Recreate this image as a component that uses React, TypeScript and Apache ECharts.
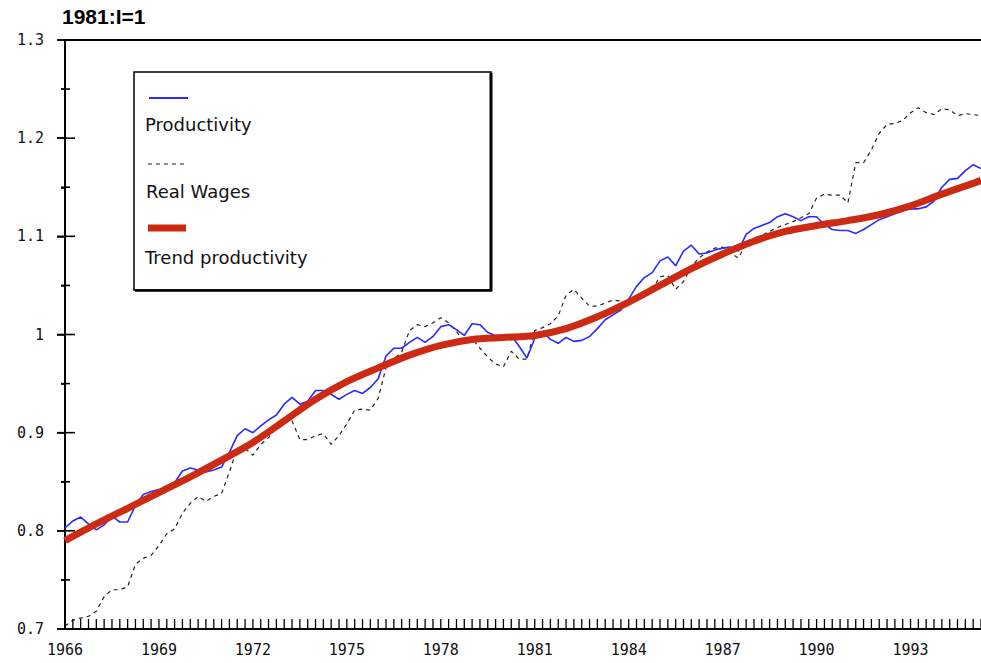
import React, { useEffect, useRef } from "react";
import * as echarts from "echarts";

// Quarterly series, 1966Q1 .. 1995Q2 (index / 4 = years since 1966)
const BASE_YEAR = 1966;
const productivity = [
  0.803, 0.81, 0.814, 0.807, 0.801, 0.806, 0.815, 0.809, 0.809, 0.826,
  0.837, 0.84, 0.842, 0.84, 0.849, 0.861, 0.864, 0.862, 0.86, 0.862,
  0.865, 0.88, 0.897, 0.904, 0.9, 0.907, 0.913, 0.918, 0.929, 0.936,
  0.929, 0.932, 0.943, 0.943, 0.939, 0.934, 0.939, 0.943, 0.94, 0.946,
  0.955, 0.978, 0.986, 0.986, 0.992, 0.997, 0.992, 0.998, 1.008, 1.01,
  1.005, 0.999, 1.011, 1.01, 1.002, 0.999, 0.999, 0.999, 0.988, 0.976,
  0.996, 1.003, 0.995, 0.991, 0.997, 0.993, 0.994, 0.998, 1.006, 1.015,
  1.02, 1.025, 1.036, 1.049, 1.058, 1.063, 1.075, 1.079, 1.07, 1.085,
  1.091, 1.082, 1.083, 1.086, 1.088, 1.089, 1.085, 1.102, 1.108, 1.111,
  1.114, 1.12, 1.123, 1.12, 1.116, 1.12, 1.12, 1.112, 1.107, 1.106,
  1.106, 1.103, 1.107, 1.112, 1.117, 1.12, 1.123, 1.126, 1.128, 1.128,
  1.13, 1.136, 1.15, 1.158, 1.159, 1.167, 1.173, 1.169,
];
const realWages = [
  0.703, 0.709, 0.711, 0.713, 0.718, 0.733, 0.74, 0.74, 0.743, 0.766,
  0.772, 0.775, 0.785, 0.797, 0.802, 0.818, 0.828, 0.835, 0.83, 0.835,
  0.838, 0.86, 0.884, 0.884, 0.877, 0.888, 0.895, 0.905, 0.912, 0.912,
  0.893, 0.893, 0.897, 0.899, 0.888, 0.897, 0.909, 0.923, 0.924, 0.923,
  0.935, 0.966, 0.975, 0.982, 1.004, 1.01, 1.008, 1.012, 1.017, 1.012,
  1.003, 0.993, 0.996, 0.986, 0.977, 0.97, 0.967, 0.983, 0.975, 0.975,
  1.004, 1.007, 1.011, 1.019, 1.04, 1.046, 1.037, 1.029, 1.029, 1.032,
  1.035, 1.034, 1.032, 1.037, 1.04, 1.046, 1.059, 1.06, 1.046, 1.054,
  1.069, 1.078, 1.084, 1.088, 1.089, 1.083, 1.078, 1.092, 1.098, 1.101,
  1.105, 1.109, 1.112, 1.115, 1.119, 1.123, 1.139, 1.143, 1.142, 1.142,
  1.134, 1.175, 1.175, 1.188, 1.205, 1.214, 1.215, 1.218, 1.226, 1.231,
  1.226, 1.224, 1.23, 1.229, 1.223, 1.225, 1.224, 1.223,
];
// Trend productivity, read at yearly points (first quarter of each year)
const trendYears = [
  1966, 1967, 1968, 1969, 1970, 1971, 1972, 1973, 1974, 1975, 1976, 1977,
  1978, 1979, 1980, 1981, 1982, 1983, 1984, 1985, 1986, 1987, 1988, 1989,
  1990, 1991, 1992, 1993, 1994, 1995, 1995.25,
];
const trendValues = [
  0.79, 0.807, 0.823, 0.839, 0.855, 0.872, 0.89, 0.912, 0.934, 0.952, 0.966,
  0.979, 0.989, 0.995, 0.997, 0.999, 1.006, 1.018, 1.033, 1.05, 1.067, 1.082,
  1.095, 1.105, 1.111, 1.116, 1.122, 1.131, 1.143, 1.154, 1.157,
];
const labelYears = [1966, 1969, 1972, 1975, 1978, 1981, 1984, 1987, 1990, 1993];
// y-axis tick marks: major (labelled) and minor (half-way)
const yMajorTicks = [0.7, 0.8, 0.9, 1.0, 1.1, 1.2, 1.3];
const yMinorTicks = [0.75, 0.85, 0.95, 1.05, 1.15, 1.25];
const legendNames = ["Productivity", "Real Wages", "Trend productivity"];
const titleText = "1981:I=1";

const X_MAX = 29.25;
const Y_MIN = 0.7;
const Y_MAX = 1.3;

export default function App() {
  const ref = useRef<HTMLDivElement>(null);
  useEffect(() => {
    if (!ref.current) return;
    const chart = echarts.init(ref.current, undefined, { renderer: "svg" });
    const prodData = productivity.map((v, i) => [i / 4, v]);
    const wageData = realWages.map((v, i) => [i / 4, v]);
    const trendData = trendYears.map((y, i) => [y - BASE_YEAR, trendValues[i]]);
    const quarterPositions = productivity.map((_, i) => i / 4);
    const labelSet = new Set(labelYears.map((y) => y - BASE_YEAR));
    const tickFont = { fontFamily: "DejaVu Sans Mono", fontSize: 15, color: "#111" };
    const legendFont = "18px DejaVu Sans";

    const legendGraphics: any[] = [
      {
        type: "rect",
        shape: { x: 134, y: 72, width: 357, height: 218 },
        style: { fill: "#fff", stroke: "#000", lineWidth: 1.5 },
        z: 100,
      },
      {
        type: "line",
        shape: { x1: 491, y1: 73, x2: 491, y2: 291 },
        style: { stroke: "#000", lineWidth: 3 },
        z: 101,
      },
      {
        type: "line",
        shape: { x1: 135, y1: 290.5, x2: 492, y2: 290.5 },
        style: { stroke: "#000", lineWidth: 2.5 },
        z: 101,
      },
      {
        type: "line",
        shape: { x1: 149, y1: 98, x2: 188, y2: 98 },
        style: { stroke: "#2a2aff", lineWidth: 2 },
        z: 102,
      },
      {
        type: "text",
        style: { text: legendNames[0], x: 145, y: 124, font: legendFont, fill: "#111", verticalAlign: "middle" },
        z: 102,
      },
      {
        type: "line",
        shape: { x1: 148, y1: 164, x2: 185, y2: 164 },
        style: { stroke: "#222", lineWidth: 1.2, lineDash: [4, 4] },
        z: 102,
      },
      {
        type: "text",
        style: { text: legendNames[1], x: 146, y: 191, font: legendFont, fill: "#111", verticalAlign: "middle" },
        z: 102,
      },
      {
        type: "line",
        shape: { x1: 148, y1: 228, x2: 186, y2: 228 },
        style: { stroke: "#cc2a12", lineWidth: 7 },
        z: 102,
      },
      {
        type: "text",
        style: { text: legendNames[2], x: 145, y: 257, font: legendFont, fill: "#111", verticalAlign: "middle" },
        z: 102,
      },
    ];

    chart.setOption({
      animation: false,
      title: {
        text: titleText,
        left: 62,
        top: 6,
        padding: 0,
        textStyle: { fontFamily: "Liberation Sans", fontWeight: "bold", fontSize: 21, color: "#000" },
      },
      grid: [{ left: 65, right: 0, top: 40, bottom: 34 }],
      xAxis: [
        {
          type: "value",
          min: 0,
          max: X_MAX,
          interval: 3,
          splitLine: { show: false },
          axisLine: { show: true, onZero: false, lineStyle: { color: "#000", width: 2 } },
          axisTick: { show: false },
          axisLabel: {
            ...tickFont,
            margin: 13,
            showMaxLabel: false,
            formatter: (v: number) => (labelSet.has(v) ? String(BASE_YEAR + v) : ""),
          },
        },
      ],
      yAxis: [
        {
          type: "value",
          min: Y_MIN,
          max: Y_MAX,
          interval: 0.1,
          splitLine: { show: false },
          axisLine: { show: true, onZero: false, lineStyle: { color: "#000", width: 2 } },
          axisTick: { show: true, length: 8, lineStyle: { color: "#000", width: 1.5 } },
          minorTick: { show: true, splitNumber: 2, length: 4, lineStyle: { color: "#000", width: 1.5 } },
          axisLabel: { ...tickFont, margin: 21 },
        },
      ],
      series: [
        {
          name: legendNames[1],
          type: "line",
          data: wageData,
          showSymbol: false,
          lineStyle: { color: "#222", width: 1.2, type: [4, 4] },
          z: 2,
        },
        {
          name: legendNames[0],
          type: "line",
          data: prodData,
          showSymbol: false,
          lineStyle: { color: "#2a2aff", width: 1.6 },
          z: 3,
        },
        {
          name: legendNames[2],
          type: "line",
          data: trendData,
          smooth: 0.3,
          showSymbol: false,
          lineStyle: { color: "#cc2a12", width: 7 },
          z: 4,
          markLine: {
            silent: true,
            symbol: "none",
            label: { show: false },
            lineStyle: { color: "#000", width: 2, type: "solid" },
            data: [{ yAxis: Y_MAX }],
          },
        },
      ],
    });

    // Tick marks placed through the chart's own scales (convertToPixel)
    const toPx = (x: number, y: number) =>
      chart.convertToPixel({ gridIndex: 0 } as any, [x, y]) as number[];
    const tickGraphics: any[] = [];
    quarterPositions.forEach((q) => {
      const p = toPx(q, Y_MIN);
      if (!p) return;
      tickGraphics.push({
        type: "line",
        silent: true,
        shape: { x1: p[0], y1: p[1] - 1, x2: p[0], y2: p[1] - 10 },
        style: { stroke: "#000", lineWidth: 1.3 },
        z: 90,
      });
    });
    yMajorTicks.forEach((v) => {
      const p = toPx(0, v);
      if (!p) return;
      tickGraphics.push({
        type: "line",
        silent: true,
        shape: { x1: p[0] - 8, y1: p[1], x2: p[0] + 10, y2: p[1] },
        style: { stroke: "#000", lineWidth: 1.6 },
        z: 90,
      });
    });
    yMinorTicks.forEach((v) => {
      const p = toPx(0, v);
      if (!p) return;
      tickGraphics.push({
        type: "line",
        silent: true,
        shape: { x1: p[0] - 4, y1: p[1], x2: p[0] + 5, y2: p[1] },
        style: { stroke: "#000", lineWidth: 1.6 },
        z: 90,
      });
    });

    chart.setOption({ graphic: [...legendGraphics, ...tickGraphics] });

    return () => chart.dispose();
  }, []);
  return (
    <div
      ref={ref}
      style={{ position: "fixed", left: 0, top: 0, width: 981, height: 663, background: "#fff" }}
    />
  );
}
